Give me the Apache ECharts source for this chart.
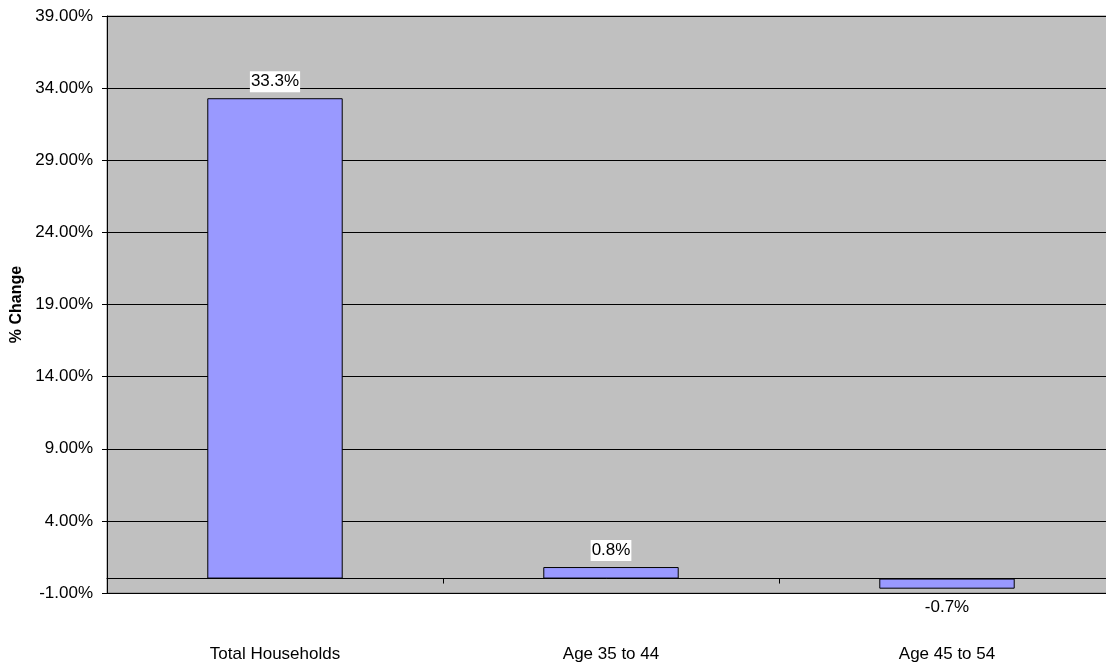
<!DOCTYPE html>
<html>
<head>
<meta charset="utf-8">
<title>% Change in Households</title>
<script src="https://cdn.jsdelivr.net/npm/echarts@6/dist/echarts.min.js"></script>
<style>
  html, body { margin: 0; padding: 0; background: #ffffff; }
  #chart { width: 1106px; height: 662px; }
</style>
</head>
<body>
<div id="chart"></div>
<script>
// Household change by group, in percent
const categories = ['Total Households', 'Age 35 to 44', 'Age 45 to 54'];
const changeValues = [33.3, 0.8, -0.7];

// Value axis range and step (percent)
const axisMin = -1;
const axisMax = 39;
const axisStep = 5;

const font = 'Arial, "Liberation Sans", sans-serif';

const chart = echarts.init(document.getElementById('chart'), null, { renderer: 'canvas' });

chart.setOption({
  animation: false,
  backgroundColor: '#ffffff',
  grid: {
    left: 107,
    top: 16,
    width: 1008,
    height: 577,
    containLabel: false,
    outerBoundsMode: 'none',
    show: true,
    backgroundColor: '#C0C0C0',
    borderColor: '#808080',
    borderWidth: 1
  },
  xAxis: {
    type: 'category',
    data: categories,
    axisLine: { show: true, onZero: true, lineStyle: { color: '#000000', width: 1 } },
    axisTick: { show: true, length: 5, inside: false, lineStyle: { color: '#000000' } },
    axisLabel: {
      margin: 53,
      color: '#000000',
      fontFamily: font,
      fontSize: 17
    },
    splitLine: { show: false }
  },
  yAxis: {
    type: 'value',
    min: axisMin,
    max: axisMax,
    interval: axisStep,
    name: '% Change',
    nameLocation: 'middle',
    nameGap: 82,
    nameTextStyle: { fontFamily: font, fontSize: 16, fontWeight: 'bold', color: '#000000' },
    axisLine: { show: true, lineStyle: { color: '#000000', width: 1 } },
    axisTick: { show: true, length: 5, lineStyle: { color: '#000000' } },
    axisLabel: {
      margin: 14,
      color: '#000000',
      fontFamily: font,
      fontSize: 17,
      formatter: v => v.toFixed(2) + '%'
    },
    splitLine: { show: true, lineStyle: { color: '#000000', width: 1 } }
  },
  series: [{
    type: 'bar',
    data: changeValues.map(v => ({
      value: v,
      label: { position: v >= 0 ? 'top' : 'bottom', distance: v >= 0 ? 6 : 8 }
    })),
    barWidth: '40.3%',
    itemStyle: { color: '#9999FF', borderColor: '#000000', borderWidth: 1 },
    label: {
      show: true,
      color: '#000000',
      fontFamily: font,
      fontSize: 17,
      backgroundColor: '#ffffff',
      padding: [2, 1, 2, 1],
      formatter: p => p.value.toFixed(1) + '%'
    }
  }]
});
</script>
</body>
</html>
